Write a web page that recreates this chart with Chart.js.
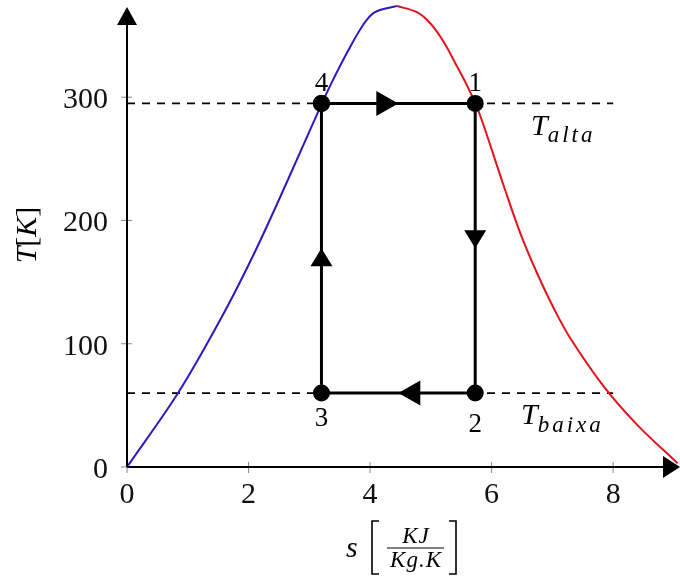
<!DOCTYPE html>
<html lang="pt">

<head>
  <meta charset="UTF-8" />
  <title>Ciclo de Carnot - diagrama T-s</title>
  <script src="https://cdn.jsdelivr.net/npm/chart.js@4.4.1/dist/chart.umd.min.js"></script>
  <style>
    body { margin: 0; background: #fff; }
    canvas { display: block; }
  </style>
</head>

<body>
  <canvas id="ts" width="680" height="576"></canvas>

  <script>
    // curva de saturacao (lado liquido em azul, lado vapor em vermelho)
    const sBlue = [0, 0.84, 1.53, 2.08, 2.63, 3.18, 3.35, 3.62, 3.89, 4.08, 4.44];
    const tBlue = [0, 60, 119, 172, 231, 292, 310, 336, 359, 369, 374];
    const sRed = [4.44, 4.77, 4.99, 5.21, 5.43, 5.59, 5.79, 6.2, 6.47, 6.75, 7.02, 7.3, 7.85, 8.4, 9.06];
    const tRed = [374, 369, 360, 345, 325, 310, 288, 228, 190, 157, 129, 104, 65, 34, 3];

    // ciclo: pontos 4 -> 1 -> 2 -> 3 -> 4
    const cycleNames = ['4', '1', '2', '3'];
    const cycleS = [3.2, 5.73, 5.73, 3.2];
    const cycleT = [295, 295, 60, 60];

    const tAlta = 295;
    const tBaixa = 60;
    const dashEndS = 8;

    const xTicks = [0, 2, 4, 6, 8];
    const yTicks = [0, 100, 200, 300];

    const serif = "'Liberation Serif', 'DejaVu Serif', serif";

    function pts(xs, ys) {
      return xs.map((x, i) => ({ x: x, y: ys[i] }));
    }

    const cyclePts = pts(cycleS, cycleT);
    cyclePts.push(cyclePts[0]);

    function triangle(c, tipX, tipY, dx, dy, len, wid) {
      const bx = tipX - dx * len, by = tipY - dy * len;
      const px = -dy * wid / 2, py = dx * wid / 2;
      c.beginPath();
      c.moveTo(tipX, tipY);
      c.lineTo(bx + px, by + py);
      c.lineTo(bx - px, by - py);
      c.closePath();
      c.fill();
    }

    // texto com partes em fontes diferentes (italico / normal)
    function richText(c, parts, x, y) {
      let cx = x;
      parts.forEach(p => {
        c.font = p.font;
        c.letterSpacing = p.spacing || '0px';
        c.fillText(p.t, cx, y + (p.dy || 0));
        cx += c.measureText(p.t).width;
      });
      c.letterSpacing = '0px';
    }
    function richWidth(c, parts) {
      let w = 0;
      parts.forEach(p => {
        c.font = p.font;
        c.letterSpacing = p.spacing || '0px';
        w += c.measureText(p.t).width;
      });
      c.letterSpacing = '0px';
      return w;
    }

    const decor = {
      id: 'decor',
      afterDatasetsDraw(chart) {
        const c = chart.ctx;
        const xs = chart.scales.x, ys = chart.scales.y;
        const a = chart.chartArea;
        const x0 = xs.getPixelForValue(0), y0 = ys.getPixelForValue(0);
        c.save();

        // marcas dos ticks
        c.strokeStyle = '#8a8a8a';
        c.lineWidth = 1;
        xTicks.forEach(v => {
          const px = xs.getPixelForValue(v);
          c.beginPath(); c.moveTo(px, y0 - 5); c.lineTo(px, y0 + 6); c.stroke();
        });
        yTicks.forEach(v => {
          const py = ys.getPixelForValue(v);
          c.beginPath(); c.moveTo(x0 - 6, py); c.lineTo(x0 + 5, py); c.stroke();
        });

        // rotulos dos ticks
        c.fillStyle = '#111';
        c.font = '30px ' + serif;
        c.textBaseline = 'alphabetic';
        c.textAlign = 'center';
        xTicks.forEach(v => c.fillText(String(v), xs.getPixelForValue(v), y0 + 36));
        c.textAlign = 'right';
        yTicks.forEach(v => c.fillText(String(v), x0 - 19, ys.getPixelForValue(v) + 11));

        // eixos com setas
        c.strokeStyle = '#000';
        c.fillStyle = '#000';
        c.lineWidth = 2;
        c.beginPath();
        c.moveTo(x0, y0); c.lineTo(x0, a.top + 12);
        c.moveTo(x0, y0); c.lineTo(a.right - 12, y0);
        c.stroke();
        triangle(c, x0, a.top + 1, 0, -1, 18, 20);
        triangle(c, a.right, y0, 1, 0, 17, 22);

        // setas no meio de cada processo
        for (let i = 0; i < cyclePts.length - 1; i++) {
          const p = cyclePts[i], q = cyclePts[i + 1];
          const px = xs.getPixelForValue(p.x), py = ys.getPixelForValue(p.y);
          const qx = xs.getPixelForValue(q.x), qy = ys.getPixelForValue(q.y);
          const len = Math.hypot(qx - px, qy - py);
          const dx = (qx - px) / len, dy = (qy - py) / len;
          const horiz = Math.abs(dx) > 0.5;
          triangle(c, (px + qx) / 2, (py + qy) / 2, dx, dy, horiz ? 22 : 18, horiz ? 25 : 22);
        }

        // numeros dos estados
        c.font = '27px ' + serif;
        c.textAlign = 'center';
        cycleNames.forEach((n, i) => {
          const px = xs.getPixelForValue(cycleS[i]);
          const py = ys.getPixelForValue(cycleT[i]);
          let off = -12;
          if (n === '3') off = 33;
          if (n === '2') off = 39;
          c.fillText(n, px, py + off);
        });

        // T_alta e T_baixa
        c.textAlign = 'left';
        const it = 'italic 30px ' + serif;
        const sub = 'italic 23px ' + serif;
        richText(c, [{ t: 'T', font: it }, { t: 'alta', font: sub, dy: 7, spacing: '3px' }],
          531, ys.getPixelForValue(tAlta) + 32);
        richText(c, [{ t: 'T', font: it }, { t: 'baixa', font: sub, dy: 8, spacing: '3px' }],
          521, ys.getPixelForValue(tBaixa) + 31);

        // titulo do eixo y: T[K]
        c.save();
        c.translate(36, 235);
        c.rotate(-Math.PI / 2);
        const yParts = [
          { t: 'T', font: it }, { t: '[', font: '30px ' + serif },
          { t: 'K', font: it }, { t: ']', font: '30px ' + serif }
        ];
        richText(c, yParts, -richWidth(c, yParts) / 2, 0);
        c.restore();

        // titulo do eixo x: s [KJ / Kg.K]
        c.font = 'italic 30px ' + serif;
        c.fillText('s', 346, 557);
        c.lineWidth = 1.6;
        c.beginPath();
        c.moveTo(379, 521); c.lineTo(372, 521); c.lineTo(372, 574); c.lineTo(379, 574);
        c.moveTo(449, 521); c.lineTo(456, 521); c.lineTo(456, 574); c.lineTo(449, 574);
        c.stroke();
        c.lineWidth = 1;
        c.beginPath(); c.moveTo(387, 548); c.lineTo(444, 548); c.stroke();
        c.textAlign = 'center';
        c.font = 'italic 23px ' + serif;
        c.letterSpacing = '1px';
        c.fillText('KJ', 416, 543);
        c.fillText('Kg.K', 416, 567);
        c.letterSpacing = '0px';

        c.restore();
      }
    };

    new Chart(document.getElementById('ts'), {
      type: 'scatter',
      data: {
        datasets: [
          {
            label: 'ciclo',
            data: cyclePts,
            showLine: true,
            borderColor: '#000',
            borderWidth: 3,
            backgroundColor: '#000',
            pointRadius: 7,
            pointHoverRadius: 7,
            clip: false,
            order: 0
          },
          {
            label: 'liquido saturado',
            data: pts(sBlue, tBlue),
            showLine: true,
            borderColor: '#2a1bbf',
            borderWidth: 2,
            pointRadius: 0,
            tension: 0.35,
            clip: false,
            order: 1
          },
          {
            label: 'vapor saturado',
            data: pts(sRed, tRed),
            showLine: true,
            borderColor: '#e3121b',
            borderWidth: 2,
            pointRadius: 0,
            tension: 0.35,
            clip: false,
            order: 1
          },
          {
            label: 'T alta',
            data: [{ x: 0, y: tAlta }, { x: dashEndS, y: tAlta }],
            showLine: true,
            borderColor: '#000',
            borderWidth: 1.8,
            borderDash: [8, 7],
            pointRadius: 0,
            order: 2
          },
          {
            label: 'T baixa',
            data: [{ x: 0, y: tBaixa }, { x: dashEndS, y: tBaixa }],
            showLine: true,
            borderColor: '#000',
            borderWidth: 1.8,
            borderDash: [8, 7],
            pointRadius: 0,
            order: 2
          }
        ]
      },
      options: {
        responsive: false,
        animation: false,
        events: [],
        layout: { autoPadding: false, padding: { top: 6, left: 0, right: 0, bottom: 0 } },
        plugins: { legend: { display: false }, tooltip: { enabled: false } },
        scales: {
          x: {
            type: 'linear',
            min: 0,
            max: 9.1,
            grid: { display: false },
            border: { display: false },
            ticks: { display: false },
            afterFit: s => { s.height = 109; }
          },
          y: {
            type: 'linear',
            min: 0,
            max: 374,
            grid: { display: false },
            border: { display: false },
            ticks: { display: false },
            afterFit: s => { s.width = 127; }
          }
        }
      },
      plugins: [decor]
    });
  </script>
</body>

</html>
